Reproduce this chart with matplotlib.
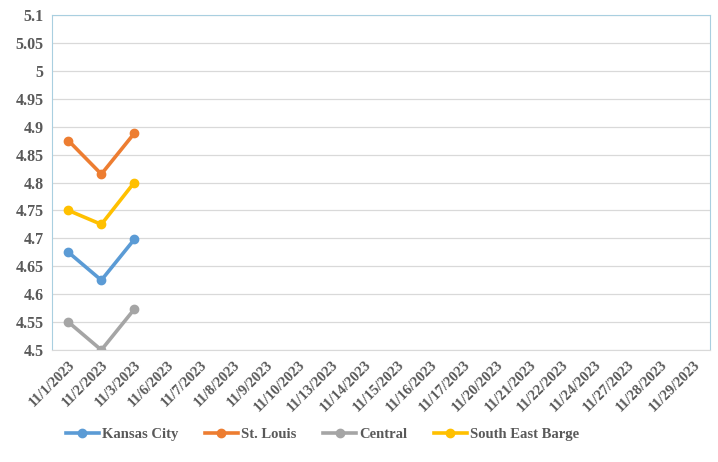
import matplotlib.pyplot as plt
import numpy as np

dates = ['11/1/2023', '11/2/2023', '11/3/2023', '11/6/2023', '11/7/2023', '11/8/2023',
         '11/9/2023', '11/10/2023', '11/13/2023', '11/14/2023', '11/15/2023', '11/16/2023',
         '11/17/2023', '11/20/2023', '11/21/2023', '11/22/2023', '11/24/2023', '11/27/2023',
         '11/28/2023', '11/29/2023']
kansas_city = [4.675, 4.625, 4.698]
st_louis = [4.875, 4.815, 4.888]
central = [4.55, 4.50, 4.573]
se_barge = [4.75, 4.725, 4.80]

plt.rcParams['font.family'] = ['Liberation Serif', 'DejaVu Serif']

fig = plt.figure(figsize=(7.18, 4.62), dpi=100)
ax = fig.add_axes([0.0724, 0.2424, 0.9166, 0.7251])

series = [(kansas_city, 'Kansas City', '#5B9BD5'),
          (st_louis, 'St. Louis', '#ED7D31'),
          (central, 'Central', '#A5A5A5'),
          (se_barge, 'South East Barge', '#FFC000')]
for vals, name, col in series:
    ax.plot(range(len(vals)), vals, '-o', color=col, lw=2.6, ms=6, label=name)

ax.set_xlim(-0.5, len(dates) - 0.5)
ax.set_ylim(4.5, 5.1)
yt = np.round(np.arange(4.5, 5.101, 0.05), 2)
ax.set_yticks(yt)
ax.set_yticklabels([f'{v:g}' for v in yt], fontsize=11.5, fontweight='bold', color='#595959')
ax.set_xticks(range(len(dates)))
ax.set_xticklabels(dates, rotation=45, ha='right', rotation_mode='anchor',
                   fontsize=10.5, fontweight='bold', color='#595959')
ax.tick_params(axis='both', length=0, pad=6)
ax.grid(axis='y', color='#d9d9d9', lw=0.9)
ax.set_axisbelow(True)
for s in ['left', 'top', 'right']:
    ax.spines[s].set_color('#a9cfe0')
ax.spines['bottom'].set_color('#d9d9d9')

leg = fig.legend(loc='center', bbox_to_anchor=(0.449, 0.06), ncol=4, frameon=False,
                 prop={'size': 10.5, 'weight': 'bold'}, handlelength=2.3,
                 handletextpad=0.2, columnspacing=1.8)
for t in leg.get_texts():
    t.set_color('#595959')

fig.savefig('out.png', dpi=100)
